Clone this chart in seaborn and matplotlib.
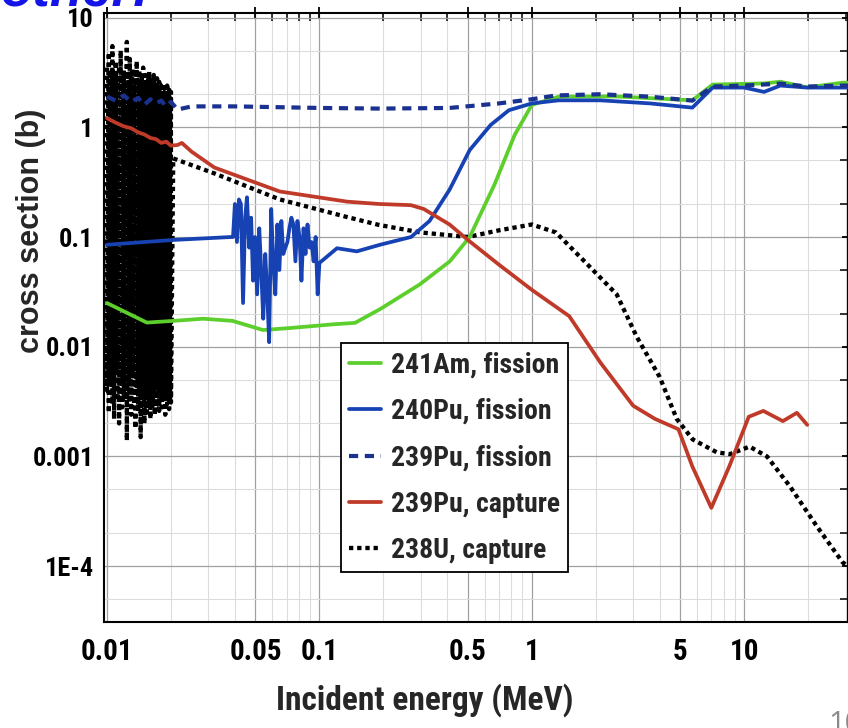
import numpy as np
import pandas as pd
import matplotlib.pyplot as plt
import matplotlib.ticker as mticker
from matplotlib import font_manager as fm
import seaborn as sns

sns.set_theme(style="white")

# pick a condensed bold face if one is installed (the chart uses a narrow Helvetica)
names = {f.name for f in fm.fontManager.ttflist}
narrow = None
for cand in ['Liberation Sans Narrow', 'Roboto Condensed', 'Open Sans Condensed', 'Arial Narrow',
             'Noto Sans Condensed', 'DejaVu Sans Condensed']:
    if cand in names:
        narrow = cand
        break
stretch = 'normal'
if narrow is None:
    if any(f.name == 'DejaVu Sans' and f.stretch == 'condensed' for f in fm.fontManager.ttflist):
        narrow, stretch = 'DejaVu Sans', 'condensed'
    else:
        narrow = 'Liberation Sans'

plt.rcParams['font.family'] = [narrow, 'Liberation Sans', 'DejaVu Sans']
plt.rcParams['font.stretch'] = stretch
plt.rcParams['font.weight'] = 'bold'

# ---- data (energy in MeV, cross section in barn) ----
# 241Am, fission
am241_e = [0.0100, 0.0154, 0.0205, 0.0283, 0.039, 0.0542, 0.0725, 0.116, 0.147, 0.193,
           0.297, 0.411, 0.51, 0.667, 0.83, 1.0, 1.34, 2.5, 5.7, 7.1, 12.4, 14.8, 19.8, 29.1, 31.0]
am241_s = [0.025, 0.0166, 0.0172, 0.018, 0.0172, 0.0142, 0.0148, 0.016, 0.0165, 0.022,
           0.037, 0.06, 0.1, 0.3, 0.85, 1.6, 1.9, 1.91, 1.76, 2.45, 2.51, 2.6, 2.31, 2.55, 2.55]

# 240Pu, fission (smooth part before / after the resolved resonances)
pu240_e_lo = [0.0100, 0.0205, 0.0385]
pu240_s_lo = [0.085, 0.094, 0.1]
# resolved resonances 0.039 - 0.1 MeV
pu240_res_e = [0.0392, 0.0400, 0.0409, 0.0418, 0.0427, 0.0437, 0.0447, 0.0456, 0.0467, 0.0477,
               0.0487, 0.0498, 0.0509, 0.0521, 0.0532, 0.0544, 0.0556, 0.0568, 0.0580, 0.0593,
               0.0606, 0.0620, 0.0634, 0.0648, 0.0662, 0.0676, 0.0691, 0.0707, 0.0722, 0.0738,
               0.0754, 0.0771, 0.0788, 0.0806, 0.0823, 0.0842, 0.0860, 0.0879, 0.0899, 0.0918,
               0.0939, 0.0960, 0.0981]
pu240_res_s = [0.1, 0.2, 0.09, 0.22, 0.2, 0.025, 0.15, 0.23, 0.08, 0.15,
               0.04, 0.1, 0.03, 0.12, 0.05, 0.018, 0.07, 0.03, 0.011, 0.18,
               0.06, 0.03, 0.13, 0.05, 0.14, 0.07, 0.08, 0.09, 0.12, 0.15,
               0.13, 0.06, 0.14, 0.1, 0.04, 0.12, 0.07, 0.13, 0.08, 0.09,
               0.06, 0.1, 0.03]
pu240_e_hi = [0.1, 0.121, 0.150, 0.193, 0.27, 0.33, 0.41, 0.51, 0.64, 0.78, 1.0, 1.34, 2.1,
              3.6, 5.7, 7.1, 10.0, 12.4, 14.8, 19.8, 29.1, 31.0]
pu240_s_hi = [0.058, 0.079, 0.074, 0.085, 0.1, 0.14, 0.27, 0.62, 1.05, 1.43, 1.65, 1.76, 1.76,
              1.65, 1.51, 2.3, 2.3, 2.1, 2.4, 2.3, 2.3, 2.3]

# 239Pu, fission
pu239f_e = [0.0100, 0.0110, 0.0120, 0.0130, 0.0140, 0.0150, 0.0160, 0.0170, 0.0180, 0.0190,
            0.0200, 0.0215, 0.025, 0.04, 0.1, 0.193, 0.41, 0.7, 1.0, 1.3, 2.1, 3.6, 5.7, 7.1,
            10.0, 14.8, 19.8, 29.0, 31.0]
pu239f_s = [1.9, 1.75, 1.95, 1.7, 1.85, 1.6, 1.8, 1.65, 1.75, 1.55,
            1.7, 1.45, 1.55, 1.55, 1.5, 1.48, 1.5, 1.65, 1.8, 1.95, 2.0, 1.9, 1.75, 2.35,
            2.4, 2.5, 2.35, 2.4, 2.4]

# 239Pu, capture
pu239c_e = [0.0100, 0.0110, 0.0120, 0.0130, 0.0140, 0.0150, 0.0160, 0.0170, 0.0180, 0.0190,
            0.0200, 0.0215, 0.0225, 0.025, 0.032, 0.065, 0.135, 0.19, 0.27, 0.31, 0.41, 0.5,
            0.7, 1.0, 1.5, 2.1, 3.0, 3.8, 4.9, 5.7, 7.0, 8.5, 10.5, 12.3, 15.2, 17.7, 19.8]
pu239c_s = [1.21, 1.1, 1.02, 0.98, 0.9, 0.86, 0.8, 0.78, 0.72, 0.74,
            0.68, 0.69, 0.72, 0.6, 0.43, 0.26, 0.21, 0.2, 0.195, 0.18, 0.13, 0.094,
            0.056, 0.033, 0.019, 0.0072, 0.0029, 0.0022, 0.00177, 0.00081, 0.00034, 0.00081,
            0.0023, 0.0026, 0.0021, 0.0025, 0.00194]

# 238U, capture: resonance band 10 - 20 keV (upper and lower spikes)
u238_res_kev = [10.0, 10.2, 10.4, 10.6, 10.8, 11.0, 11.2, 11.4, 11.6, 11.8,
                12.0, 12.2, 12.4, 12.6, 12.8, 13.0, 13.2, 13.4, 13.6, 13.8,
                14.0, 14.2, 14.4, 14.6, 14.8, 15.0, 15.2, 15.4, 15.6, 15.8,
                16.0, 16.2, 16.4, 16.6, 16.8, 17.0, 17.2, 17.4, 17.6, 17.8,
                18.0, 18.2, 18.4, 18.6, 18.8, 19.0, 19.2, 19.4, 19.6, 19.8, 20.0]
u238_res_hi = [3.5, 4.8, 3.0, 5.5, 3.2, 4.0, 2.8, 3.6, 5.0, 3.0,
               3.4, 2.9, 6.0, 2.6, 4.2, 3.0, 3.4, 2.5, 3.1, 4.0,
               2.7, 3.3, 2.4, 2.9, 3.5, 2.6, 3.0, 2.3, 2.8, 3.2,
               2.4, 2.7, 2.2, 3.0, 2.5, 2.3, 2.8, 2.1, 2.6, 2.2,
               2.4, 2.0, 2.5, 2.1, 2.3, 1.9, 2.4, 2.0, 2.2, 1.9, 2.1]
u238_res_lo = [0.004, 0.0025, 0.005, 0.003, 0.0022, 0.006, 0.0035, 0.002, 0.0045, 0.0028,
               0.0034, 0.004, 0.0014, 0.005, 0.0033, 0.0024, 0.0055, 0.003, 0.0018, 0.0042,
               0.0027, 0.0036, 0.0015, 0.0048, 0.003, 0.002, 0.0038, 0.0025, 0.0044, 0.0031,
               0.0022, 0.005, 0.0029, 0.0035, 0.0024, 0.0045, 0.003, 0.0038, 0.0026, 0.0042,
               0.0033, 0.0028, 0.005, 0.0032, 0.0024, 0.004, 0.003, 0.0036, 0.0027, 0.0033, 0.0031]
u238_e = [0.0205, 0.032, 0.065, 0.135, 0.19, 0.3, 0.5, 0.7, 1.0, 1.3, 1.74, 2.51, 3.12,
          4.0, 4.81, 5.72, 7.43, 8.55, 10.6, 12.8, 16.4, 21.9, 29.1, 31.0]
u238_s = [0.52, 0.38, 0.22, 0.152, 0.129, 0.11, 0.1, 0.115, 0.13, 0.11, 0.062, 0.03, 0.0123,
          0.0053, 0.0022, 0.00143, 0.00109, 0.00105, 0.00123, 0.001, 0.000535, 0.000233,
          0.000108, 0.0001]

x_ticks = [0.01, 0.05, 0.1, 0.5, 1, 5, 10]
x_tick_labels = ['0.01', '0.05', '0.1', '0.5', '1', '5', '10']
y_ticks = [1e-4, 1e-3, 1e-2, 1e-1, 1, 10]
y_tick_labels = ['1E-4', '0.001', '0.01', '0.1', '1', '10']

# ---- assemble series ----
u_x, u_y = [], []
for e, hi, lo in zip(u238_res_kev, u238_res_hi, u238_res_lo):
    u_x += [e / 1000, e / 1000]
    u_y += [hi, lo]
u_x += u238_e
u_y += u238_s

pu240_e = pu240_e_lo + pu240_res_e + pu240_e_hi
pu240_s = pu240_s_lo + pu240_res_s + pu240_s_hi

W, H = 848, 728
fig = plt.figure(figsize=(W / 100, H / 100), dpi=100)
ax = fig.add_axes([104 / W, 1 - 622 / H, (W - 104) / W, (622 - 13) / H])
ax.set_xscale('log')
ax.set_yscale('log')

green = '#5ccf2c'
blue = '#1642b4'
navy = '#1a318f'
red = '#bf3a28'

sns.lineplot(x=u_x, y=u_y, estimator=None, sort=False, ax=ax, color='black',
             lw=3.1, linestyle=(0, (1, 0.9)), zorder=2)
sns.lineplot(x=am241_e, y=am241_s, estimator=None, sort=False, ax=ax, color=green, lw=2.7, zorder=3)
sns.lineplot(x=pu240_e, y=pu240_s, estimator=None, sort=False, ax=ax, color=blue, lw=2.7, zorder=4)
sns.lineplot(x=pu239f_e, y=pu239f_s, estimator=None, sort=False, ax=ax, color=navy, lw=3.0,
             linestyle=(0, (2.2, 1.6)), zorder=5)
sns.lineplot(x=pu239c_e, y=pu239c_s, estimator=None, sort=False, ax=ax, color=red, lw=2.7, zorder=6)

ax.set_xlim(0.00968, 30.8)
ax.set_ylim(3.1e-5, 11)

ax.xaxis.set_major_locator(mticker.FixedLocator(x_ticks))
ax.xaxis.set_major_formatter(mticker.FixedFormatter(x_tick_labels))
ax.xaxis.set_minor_locator(mticker.LogLocator(base=10, subs=[2, 3, 4, 6, 7, 8, 9]))
ax.xaxis.set_minor_formatter(mticker.NullFormatter())
ax.yaxis.set_major_locator(mticker.FixedLocator(y_ticks))
ax.yaxis.set_major_formatter(mticker.FixedFormatter(y_tick_labels))
ax.yaxis.set_minor_locator(mticker.LogLocator(base=10, subs=[2, 5]))
ax.yaxis.set_minor_formatter(mticker.NullFormatter())

ax.grid(which='major', color='#a0a0a0', lw=0.9)
ax.grid(which='minor', color='#dcdcdc', lw=0.8)
ax.tick_params(which='major', direction='inout', length=9, width=1.3, top=True, right=True,
               colors='black')
ax.tick_params(axis='x', which='major', pad=7, labelsize=21)
ax.tick_params(axis='y', which='major', pad=3, labelsize=19)
ax.tick_params(which='minor', direction='in', length=6, width=1.1, top=True, right=True,
               colors='black')
for s in ax.spines.values():
    s.set_color('black')
    s.set_linewidth(1.5)

handles = [ax.lines[1], ax.lines[2], ax.lines[3], ax.lines[4], ax.lines[0]]
labels = ['241Am, fission', '240Pu, fission', '239Pu, fission', '239Pu, capture', '238U, capture']
leg = ax.legend(handles, labels, loc='upper left', bbox_to_anchor=((341 - 104) / 744, 1 - (343 - 13) / 609),
                borderaxespad=0, fontsize=20, frameon=True, fancybox=False, framealpha=1,
                edgecolor='black', handlelength=1.15, handletextpad=0.35, labelspacing=0.7,
                borderpad=0.3)
leg.get_frame().set_linewidth(1.3)

fig.text(425 / W, 1 - 700 / H, 'Incident energy (MeV)', ha='center', va='center',
         fontsize=24, fontweight='bold')
fig.text(31 / W, 1 - 231 / H, 'cross section (b)', ha='center', va='center', rotation=90,
         fontsize=22, fontweight='bold', family=['Liberation Sans', 'DejaVu Sans'], stretch='normal')
fig.text(0.0, 1 - 5 / H, 'other:', ha='left', va='baseline', fontsize=38, fontweight='bold',
         fontstyle='italic', color='#1414e8', family=['Liberation Sans', 'DejaVu Sans'], stretch='normal')
fig.text(828 / W, -4 / H, '10', ha='left', va='baseline', fontsize=21, fontweight='normal',
         color='#8a8a8a', family=['Open Sans', 'DejaVu Sans'], stretch='normal')

fig.savefig('out.png', dpi=100)
